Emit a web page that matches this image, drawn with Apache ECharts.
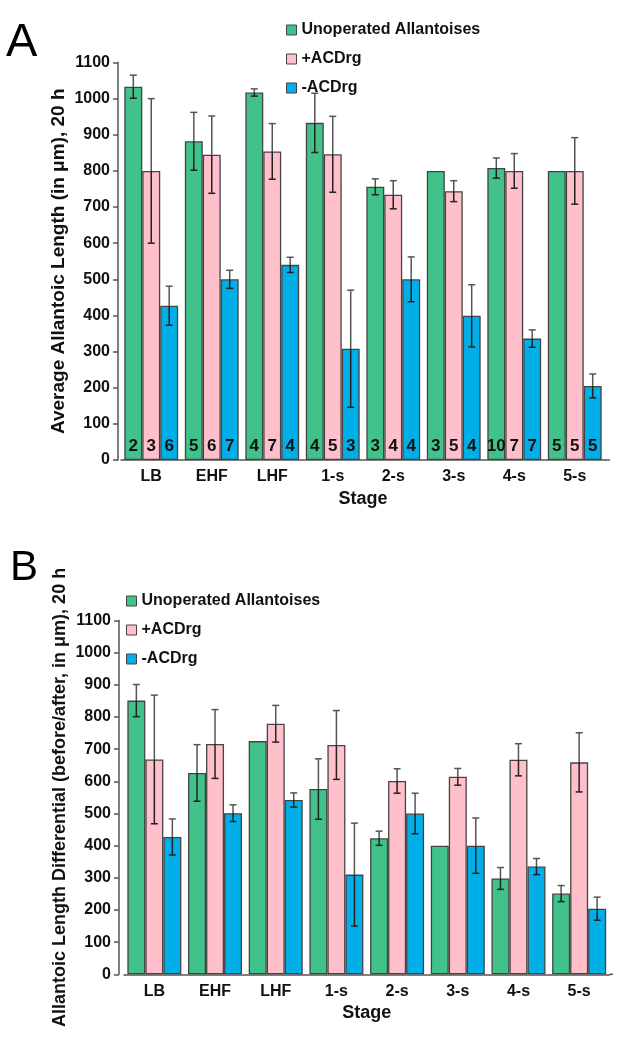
<!DOCTYPE html>
<html>
<head>
<meta charset="utf-8">
<script src="https://cdn.jsdelivr.net/npm/echarts@6/dist/echarts.min.js"></script>
<style>html,body{margin:0;padding:0;background:#fff}#c{width:627px;height:1050px}</style>
</head>
<body>
<div id="c"></div>
<script>
const stages = ['LB','EHF','LHF','1-s','2-s','3-s','4-s','5-s'];
const seriesNames = ['Unoperated Allantoises','+ACDrg','-ACDrg'];
const yTicks = [0,100,200,300,400,500,600,700,800,900,1000,1100];

// Panel A: average allantoic length
const aUnop = [1033, 882, 1017, 933, 756, 800, 808, 800];
const aUnopErr = [32, 80, 10, 82, 22, 0, 28, 0];
const aPlus = [800, 845, 854, 846, 734, 744, 800, 800];
const aPlusErr = [200, 107, 77, 105, 39, 29, 48, 92];
const aMinus = [427, 500, 540, 308, 500, 399, 336, 205];
const aMinusErr = [54, 25, 21, 162, 62, 86, 24, 33];
const nUnop = [2, 5, 4, 4, 3, 3, 10, 5];
const nPlus = [3, 6, 7, 5, 4, 5, 7, 5];
const nMinus = [6, 7, 4, 3, 4, 4, 7, 5];

// Panel B: length differential
const bUnop = [851, 626, 725, 576, 423, 400, 298, 251];
const bUnopErr = [50, 88, 0, 94, 22, 0, 34, 25];
const bPlus = [668, 716, 779, 713, 601, 614, 667, 659];
const bPlusErr = [200, 107, 57, 107, 38, 26, 50, 92];
const bMinus = [427, 501, 542, 310, 500, 400, 335, 204];
const bMinusErr = [56, 26, 22, 160, 63, 86, 25, 36];

const FONT = "'Liberation Sans', Arial, Helvetica, sans-serif";
const colors = ['#40c28a', '#ffc0cb', '#00aee8'];
const GAP = 0.11;

function barSeries(name, data, k, ax, counts) {
  return {
    type: 'bar', name: name, data: data, xAxisIndex: ax, yAxisIndex: ax,
    barGap: '0%', barCategoryGap: (GAP * 100) + '%',
    itemStyle: { color: colors[k], borderColor: '#444', borderWidth: 1.3 },
    label: counts ? {
      show: true, position: 'insideBottom', distance: 5,
      formatter: p => String(counts[p.dataIndex]),
      fontFamily: FONT, fontWeight: 'bold', fontSize: 17, color: '#111'
    } : { show: false },
    emphasis: { disabled: true },
    silent: true
  };
}

function errSeries(vals, errs, k, ax) {
  return {
    type: 'custom', xAxisIndex: ax, yAxisIndex: ax, z: 10, silent: true,
    data: vals.map((v, i) => [i, v, errs[i]]),
    renderItem: function (params, api) {
      const i = api.value(0), v = api.value(1), e = api.value(2);
      if (!e) return null;
      const c = api.coord([i, v]);
      const band = api.size([1, 0])[0];
      const bw = band * (1 - GAP) / 3;
      const x = c[0] + (k - 1) * bw;
      const yt = api.coord([i, v + e])[1];
      const yb = api.coord([i, Math.max(0, v - e)])[1];
      const cw = 3.5;
      const up = { stroke: '#555', lineWidth: 1.5 };
      const dn = { stroke: '#222', lineWidth: 1.5 };
      return {
        type: 'group', children: [
          { type: 'line', shape: { x1: x, y1: yt, x2: x, y2: c[1] }, style: up },
          { type: 'line', shape: { x1: x - cw, y1: yt, x2: x + cw, y2: yt }, style: up },
          { type: 'line', shape: { x1: x, y1: c[1], x2: x, y2: yb }, style: dn },
          { type: 'line', shape: { x1: x - cw, y1: yb, x2: x + cw, y2: yb }, style: dn }
        ]
      };
    }
  };
}

function xAx(idx) {
  return {
    type: 'category', gridIndex: idx, data: stages,
    name: 'Stage', nameLocation: 'middle', nameGap: 30, nameMoveOverlap: false,
    nameTextStyle: { fontFamily: FONT, fontWeight: 'bold', fontSize: 18, color: '#111' },
    axisLine: { lineStyle: { color: '#555', width: 1.5 } },
    axisTick: { alignWithLabel: true, length: 5, lineStyle: { color: '#555', width: 1.5 } },
    axisLabel: { margin: 9, fontFamily: FONT, fontWeight: 'bold', fontSize: 16, color: '#111' }
  };
}

function yAx(idx, name, off, gap, fs) {
  return {
    type: 'value', gridIndex: idx, min: yTicks[0], max: yTicks[yTicks.length - 1], interval: 100,
    offset: off,
    name: name, nameLocation: 'middle', nameGap: gap, nameMoveOverlap: false,
    nameTextStyle: { fontFamily: FONT, fontWeight: 'bold', fontSize: fs, color: '#111' },
    splitLine: { show: false },
    axisLine: { show: true, lineStyle: { color: '#555', width: 1.5 } },
    axisTick: { show: true, length: 5, lineStyle: { color: '#555', width: 1.5 } },
    axisLabel: { margin: 8, formatter: v => String(v), fontFamily: FONT, fontWeight: 'bold', fontSize: 16, color: '#111' }
  };
}

function legend(left, top) {
  return {
    data: seriesNames, orient: 'vertical', left: left, top: top,
    itemWidth: 10, itemHeight: 10, itemGap: 13, icon: 'rect',
    itemStyle: { borderColor: '#444', borderWidth: 1 },
    textStyle: { fontFamily: FONT, fontWeight: 'bold', fontSize: 16, lineHeight: 16, color: '#111' },
    selectedMode: false
  };
}

const chart = echarts.init(document.getElementById('c'), null, { renderer: 'canvas' });
chart.setOption({
  animation: false,
  backgroundColor: '#fff',
  grid: [
    { left: 121, right: 22, top: 62.5, bottom: 590 },
    { left: 124, right: 17.5, top: 620.5, bottom: 75.7 }
  ],
  legend: [legend(281, 17), legend(121, 588)],
  xAxis: [xAx(0), xAx(1)],
  yAxis: [
    yAx(0, 'Average Allantoic Length (in \u03bcm), 20 h', 3, 50, 19),
    yAx(1, 'Allantoic Length Differential (before/after, in \u03bcm), 20 h', 5, 50, 18)
  ],
  graphic: [
    { type: 'text', left: 6, top: 20, style: { text: 'A', font: 'normal 47px ' + FONT, fill: '#000' } },
    { type: 'text', left: 10, top: 547, style: { text: 'B', font: 'normal 42px ' + FONT, fill: '#000' } },
    { type: 'line', shape: { x1: 605, y1: 460, x2: 610, y2: 460 }, style: { stroke: '#555', lineWidth: 1.5 } },
    { type: 'line', shape: { x1: 609.5, y1: 974.3, x2: 613, y2: 974.3 }, style: { stroke: '#555', lineWidth: 1.5 } }
  ],
  series: [
    barSeries(seriesNames[0], aUnop, 0, 0, nUnop),
    barSeries(seriesNames[1], aPlus, 1, 0, nPlus),
    barSeries(seriesNames[2], aMinus, 2, 0, nMinus),
    errSeries(aUnop, aUnopErr, 0, 0),
    errSeries(aPlus, aPlusErr, 1, 0),
    errSeries(aMinus, aMinusErr, 2, 0),
    barSeries(seriesNames[0], bUnop, 0, 1, null),
    barSeries(seriesNames[1], bPlus, 1, 1, null),
    barSeries(seriesNames[2], bMinus, 2, 1, null),
    errSeries(bUnop, bUnopErr, 0, 1),
    errSeries(bPlus, bPlusErr, 1, 1),
    errSeries(bMinus, bMinusErr, 2, 1)
  ]
});
</script>
</body>
</html>
